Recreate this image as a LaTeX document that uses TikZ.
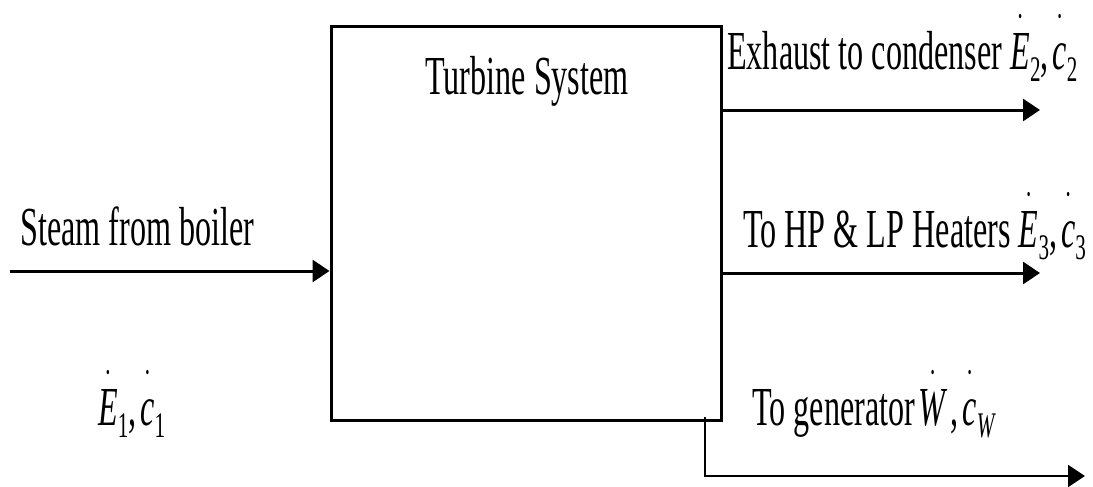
\documentclass[tikz,border=0pt]{standalone}
\usepackage{fontspec}
\setmainfont{Liberation Serif}[FakeStretch=0.585]
\usetikzlibrary{arrows.meta}
\newcommand\dotover[1]{\leavevmode\setbox0\hbox{#1}\rlap{\hbox to\wd0{\hss\raisebox{47pt}{\fontsize{18}{18}\selectfont\textbullet}\hss}}\box0}
\newcommand\sbs[1]{\raisebox{-12pt}{\fontsize{36}{36}\selectfont #1}}
\tikzset{
  lbl/.style={inner sep=0pt, anchor=base west, font=\fontsize{55}{60}\selectfont},
  flow/.style={line width=3pt, -{Triangle[length=17pt,width=22pt]}},
  thinflow/.style={line width=2pt, -{Triangle[length=17pt,width=22pt]}}
}
\begin{document}
\begin{tikzpicture}[x=1pt,y=-1pt]
\useasboundingbox (0,0) rectangle (1093,487);
\node[draw, line width=3pt, minimum width=390pt, minimum height=393pt, inner sep=0pt] (box) at (526,223.5) {};
\node[lbl, anchor=base] (title) at (527,95) {Turbine System};
\node[lbl] (steam) at (20,245) {Steam from boiler};
\node[lbl] (e1) at (98,425) {\dotover{\textit{E}}\sbs{1},\kern4pt\dotover{\textit{c}}\sbs{1}};
\node[lbl] (exh) at (727,70) {Exhaust to condenser \dotover{\textit{E}}\sbs{2},\kern4pt\dotover{\textit{c}}\sbs{2}};
\node[lbl] (heat) at (743,247) {To HP \& LP Heaters \dotover{\textit{E}}\sbs{3},\kern4pt\dotover{\textit{c}}\sbs{3}};
\node[lbl] (gen) at (752,425) {To generator\kern3pt\dotover{\textit{W}}\kern3pt,\kern4pt\dotover{\textit{c}}\sbs{\textit{W}}};
\coordinate (sin) at (10,271);
\coordinate (eout) at (1040,110);
\coordinate (hout) at (1040,273);
\coordinate (gstart) at (705,417);
\coordinate (gout) at (1085,476);
\draw[flow] (sin) -- (sin -| box.west);
\draw[flow] (eout -| box.east) -- (eout);
\draw[flow] (hout -| box.east) -- (hout);
\draw[thinflow] (gstart) |- (gout);
\end{tikzpicture}
\end{document}
